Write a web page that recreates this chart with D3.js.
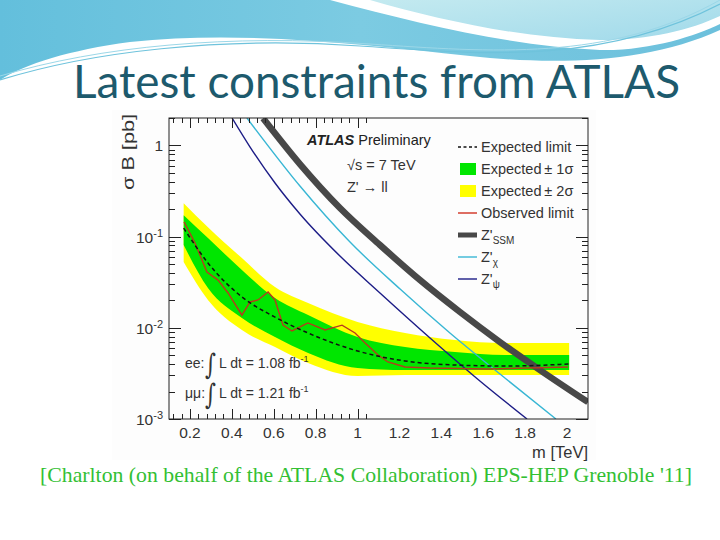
<!DOCTYPE html>
<html><head><meta charset="utf-8">
<script src="https://cdn.jsdelivr.net/npm/d3@7"></script>
<style>body{margin:0;background:#fff}svg{display:block}</style>
</head><body>
<script>
// ---------------- data ----------------
const titleText = "Latest constraints from ATLAS";
const citation = "[Charlton (on behalf of the ATLAS Collaboration) EPS-HEP Grenoble '11]";

const xTicks = [0.2, 0.4, 0.6, 0.8, 1, 1.2, 1.4, 1.6, 1.8, 2];
const xTickLabels = ["0.2","0.4","0.6","0.8","1","1.2","1.4","1.6","1.8","2"];
const yDecades = [1e-3, 1e-2, 1e-1, 1];

// expected limit & bands (mass in TeV, σB in pb)
const bandMass = [0.17, 0.286, 0.448, 0.606, 0.764, 1.0, 1.227, 1.465, 1.704, 2.01];
const expected = [0.124, 0.0514, 0.0218, 0.0131, 0.00877, 0.00557, 0.00433, 0.00391, 0.00381, 0.00401];
const plus1 =   [0.172, 0.0966, 0.0431, 0.0212, 0.0138, 0.00792, 0.00615, 0.00543, 0.00504, 0.00504];
const minus1 =  [0.0809, 0.0273, 0.0128, 0.00792, 0.0053, 0.00362, 0.00344, 0.00344, 0.00344, 0.00344];
const plus2 =   [0.233, 0.127, 0.0582, 0.028, 0.0187, 0.0116, 0.00877, 0.00735, 0.00681, 0.00681];
const minus2 =  [0.0526, 0.0202, 0.00946, 0.00615, 0.00411, 0.00296, 0.00303, 0.00303, 0.00303, 0.00303];

const obsMass = [0.172, 0.224, 0.281, 0.334, 0.382, 0.448, 0.487, 0.525, 0.573, 0.606, 0.644, 0.687, 0.763, 0.845, 0.926, 0.988, 1.036, 1.098, 1.145, 1.227, 1.346, 1.623, 2.005];
const observed = [0.145, 0.0851, 0.0409, 0.0334, 0.0241, 0.0138, 0.0192, 0.0202, 0.0247, 0.0202, 0.0107, 0.00923, 0.0113, 0.00946, 0.0107, 0.00877, 0.00681, 0.00504, 0.00422, 0.00372, 0.00362, 0.00353, 0.00372];

const ssmMass = [0.549, 0.725, 0.916, 1.107, 1.298, 1.489, 1.68, 1.871, 2.1];
const ssm =     [1.99, 0.625, 0.206, 0.0809, 0.0334, 0.0149, 0.00698, 0.00344, 0.00153];
const chiMass = [0.472, 0.725, 0.964, 1.203, 1.441, 1.68, 1.947];
const chi =     [2.0, 0.359, 0.0873, 0.0266, 0.00877, 0.00311, 0.001];
const psiMass = [0.401, 0.487, 0.606, 0.725, 0.916, 1.107, 1.346, 1.584, 1.809];
const psi =     [2.0, 0.959, 0.387, 0.177, 0.0612, 0.0241, 0.00773, 0.00261, 0.001];

const legendLabels = ["Expected limit","Expected\u2009\u00b1 1\u03c3","Expected\u2009\u00b1 2\u03c3","Observed limit","Z'","Z'","Z'"];
const legendSubs = ["","","","","SSM","\u03c7","\u03c8"];

// ---------------- drawing ----------------
const W = 720, H = 540;
const svg = d3.select("body").append("svg").attr("width", W).attr("height", H);
svg.append("rect").attr("width", W).attr("height", H).attr("fill", "#fff");

// header decoration
const defs = svg.append("defs");
const g1 = defs.append("linearGradient").attr("id","hdr").attr("x1","0").attr("x2","1").attr("y1","0").attr("y2","0");
g1.append("stop").attr("offset","0").attr("stop-color","#63bfdc");
g1.append("stop").attr("offset","0.5").attr("stop-color","#7ccbe2");
g1.append("stop").attr("offset","1").attr("stop-color","#6cc0dc");
const g2 = defs.append("linearGradient").attr("id","hdr2").attr("x1","0").attr("x2","1").attr("y1","0").attr("y2","1");
g2.append("stop").attr("offset","0").attr("stop-color","#c4eaf0");
g2.append("stop").attr("offset","1").attr("stop-color","#9fd9ea");
const hdr = svg.append("g");
hdr.append("path").attr("d","M0,0 L720,0 L720,30 C650,62 560,66 470,56 C360,44 240,30 130,42 C70,50 25,64 0,80 Z").attr("fill","url(#hdr)");
hdr.append("path").attr("d","M360,0 C440,22 520,42 600,44 C650,45 695,30 720,18 L720,0 Z").attr("fill","url(#hdr2)");
hdr.append("path").attr("d","M330,0 C420,24 510,46 600,50 C650,51 695,36 720,24 L720,16 C690,30 650,40 600,40 C520,38 440,20 370,0 Z").attr("fill","#ffffff");
hdr.append("path").attr("d","M0,80 C90,52 220,36 360,46 C480,54 600,66 720,4").attr("fill","none").attr("stroke","#6fc3dc").attr("stroke-width",1.2);
hdr.append("path").attr("d","M0,76 C100,46 230,34 370,44 C490,52 610,62 720,0").attr("fill","none").attr("stroke","#9bd7e8").attr("stroke-width",1);

svg.append("text").attr("x",73).attr("y",98).attr("font-family","Lato, 'Open Sans', sans-serif")
  .attr("font-size",46).attr("fill","#1d5a6d").attr("textLength",607).attr("lengthAdjust","spacingAndGlyphs").text(titleText);

// plot area
const L = 169, R = 588, T = 118, B = 419;
const x = d3.scaleLinear().domain([0.1, 2.1]).range([L, R]);
const y = d3.scaleLog().domain([1e-3, 2]).range([B, T]);

svg.append("rect").attr("x",112).attr("y",110).attr("width",484).attr("height",350).attr("fill","#fdfdfd");

defs.append("clipPath").attr("id","clip").append("rect").attr("x",L).attr("y",T).attr("width",R-L).attr("height",B-T);
const plot = svg.append("g").attr("clip-path","url(#clip)");

const bandArea = (hi, lo) => d3.area().x((d,i)=>x(bandMass[i])).y0((d,i)=>y(lo[i])).y1((d,i)=>y(hi[i])).curve(d3.curveMonotoneX)(bandMass);
plot.append("path").attr("d", bandArea(plus2, minus2)).attr("fill","#ffff00");
plot.append("path").attr("d", bandArea(plus1, minus1)).attr("fill","#00e600");

const lineOf = (ms, vs, curve) => d3.line().x((d,i)=>x(ms[i])).y((d,i)=>y(vs[i])).curve(curve)(ms);

plot.append("path").attr("d", lineOf(ssmMass, ssm, d3.curveMonotoneX)).attr("fill","none").attr("stroke","#484848").attr("stroke-width",6.5);
plot.append("path").attr("d", lineOf(chiMass, chi, d3.curveMonotoneX)).attr("fill","none").attr("stroke","#38b6d4").attr("stroke-width",1.4);
plot.append("path").attr("d", lineOf(psiMass, psi, d3.curveMonotoneX)).attr("fill","none").attr("stroke","#1c1c86").attr("stroke-width",1.4);
plot.append("path").attr("d", lineOf(obsMass, observed, d3.curveLinear)).attr("fill","none").attr("stroke","#b8391e").attr("stroke-width",1.4);
plot.append("path").attr("d", lineOf(bandMass, expected, d3.curveMonotoneX)).attr("fill","none").attr("stroke","#111").attr("stroke-width",1.5).attr("stroke-dasharray","4,3");

// frame & ticks
const ax = svg.append("g").attr("stroke","#222").attr("stroke-width",1);
ax.append("rect").attr("x",L).attr("y",T).attr("width",R-L).attr("height",B-T).attr("fill","none");
const yt = y.ticks();
yt.forEach(v => {
  const major = Math.abs(Math.log10(v) - Math.round(Math.log10(v))) < 1e-9;
  const len = major ? 12 : 6;
  const yy = Math.round(y(v)) + 0.5;
  ax.append("line").attr("x1",L).attr("x2",L+len).attr("y1",yy).attr("y2",yy);
  ax.append("line").attr("x1",R).attr("x2",R-len).attr("y1",yy).attr("y2",yy);
});
const xMinor = d3.range(6, 53).map(k => +(k*0.02).toFixed(2)).filter(v => Math.round(v*100) % 4 === 0 && v > 0.1 && v < 2.1);
xMinor.forEach(v => {
  const major = Math.round(v*100) % 20 === 0;
  const len = major ? 10 : 5;
  const xx = Math.round(x(v)) + 0.5;
  ax.append("line").attr("x1",xx).attr("x2",xx).attr("y1",B).attr("y2",B-len);
  ax.append("line").attr("x1",xx).attr("x2",xx).attr("y1",T).attr("y2",T+len);
});

const font = "'Liberation Sans', Arial, sans-serif";
const txt = svg.append("g").attr("font-family", font).attr("fill","#333");
xTicks.forEach((v,i) => {
  txt.append("text").attr("x", x(v)).attr("y", 438).attr("text-anchor","middle").attr("font-size",15.5).text(xTickLabels[i]);
});
txt.append("text").attr("x", R).attr("y", 458).attr("text-anchor","end").attr("font-size",16.5).text("m [TeV]");
yDecades.forEach(v => {
  const e = Math.round(Math.log10(v));
  const t = txt.append("text").attr("x", 163).attr("y", y(v)+6).attr("text-anchor","end").attr("font-size",15.5);
  if (e === 0) t.text("1");
  else { t.append("tspan").text("10"); t.append("tspan").attr("dy",-6).attr("font-size",11).text(String(e)); }
});
txt.append("text").attr("transform","translate(134,114) rotate(-90)").attr("text-anchor","end").attr("font-size",17)
  .attr("textLength",76).attr("lengthAdjust","spacingAndGlyphs").text("\u03c3 B [pb]");

// ATLAS label
const at = txt.append("text").attr("x",307).attr("y",145).attr("font-size",14.5).attr("fill","#222");
at.append("tspan").attr("font-weight","bold").attr("font-style","italic").text("ATLAS");
at.append("tspan").text(" Preliminary");
txt.append("text").attr("x",347).attr("y",170).attr("font-size",14.5).text("\u221As = 7 TeV");
txt.append("text").attr("x",347).attr("y",192).attr("font-size",14.5).text("Z' \u2192 ll");

// legend
const legY = [147, 169, 191, 213, 235, 257, 279];
const lg = svg.append("g");
const sx0 = 458, sx1 = 477;
lg.append("line").attr("x1",sx0).attr("x2",sx1).attr("y1",legY[0]).attr("y2",legY[0]).attr("stroke","#111").attr("stroke-width",1.5).attr("stroke-dasharray","3,2.5");
lg.append("rect").attr("x",460).attr("y",legY[1]-6).attr("width",16).attr("height",12).attr("fill","#00e600");
lg.append("rect").attr("x",460).attr("y",legY[2]-6).attr("width",16).attr("height",12).attr("fill","#ffff00");
lg.append("line").attr("x1",sx0).attr("x2",sx1).attr("y1",legY[3]).attr("y2",legY[3]).attr("stroke","#d03020").attr("stroke-width",1.4);
lg.append("line").attr("x1",sx0).attr("x2",sx1).attr("y1",legY[4]).attr("y2",legY[4]).attr("stroke","#484848").attr("stroke-width",5);
lg.append("line").attr("x1",sx0).attr("x2",sx1).attr("y1",legY[5]).attr("y2",legY[5]).attr("stroke","#38b6d4").attr("stroke-width",1.4);
lg.append("line").attr("x1",sx0).attr("x2",sx1).attr("y1",legY[6]).attr("y2",legY[6]).attr("stroke","#1c1c86").attr("stroke-width",1.4);
legendLabels.forEach((lab,i) => {
  const t = txt.append("text").attr("x",481).attr("y",legY[i]+5).attr("font-size",14.5).text(lab);
  if (legendSubs[i]) t.append("tspan").attr("dy",4).attr("font-size",10).text(legendSubs[i]);
});

// luminosity
const lumi = [["ee:", 368, "1.08"], ["\u03bc\u03bc:", 398, "1.21"]];
lumi.forEach(r => {
  txt.append("text").attr("x",185).attr("y",r[1]).attr("font-size",14).text(r[0]);
  txt.append("text").attr("transform",`translate(205,${r[1]+6}) scale(1,1.35)`).attr("font-size",21)
    .attr("font-family","'DejaVu Serif', serif").text("\u222b");
  const t = txt.append("text").attr("x",219).attr("y",r[1]).attr("font-size",14).text("L dt = " + r[2] + " fb");
  t.append("tspan").attr("dy",-6).attr("font-size",9).text("-1");
});

// citation
svg.append("text").attr("x",40).attr("y",482).attr("font-family","'Liberation Serif', 'DejaVu Serif', serif")
  .attr("font-size",21).attr("fill","#33c033").attr("textLength",652).attr("lengthAdjust","spacingAndGlyphs").text(citation);
</script>
</body></html>
